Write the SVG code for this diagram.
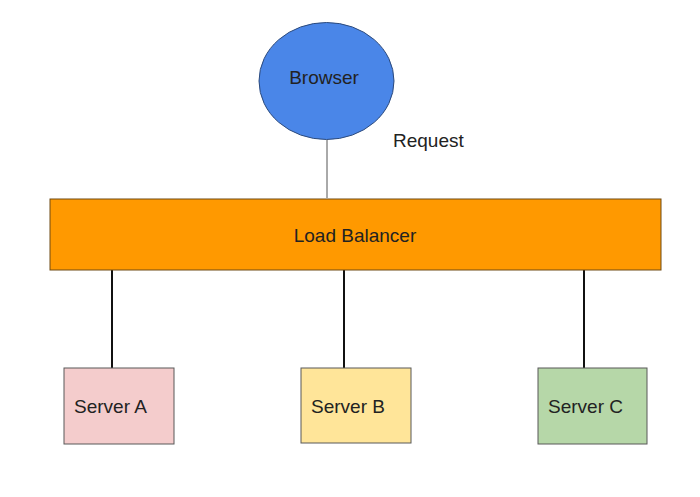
<svg xmlns="http://www.w3.org/2000/svg" width="700" height="497" viewBox="0 0 700 497">
<style>
text{font-family:"Liberation Sans",Arial,sans-serif;font-size:19px;fill:#222}
.srv{stroke:#595959;stroke-width:1}
.conn{stroke:#111;stroke-width:2;fill:none}
</style>
<rect width="700" height="497" fill="#fff"/>
<g id="connectors">
<line x1="327" y1="140" x2="327" y2="198" stroke="#555" stroke-width="1"/>
<line class="conn" x1="112" y1="270" x2="112" y2="368"/>
<line class="conn" x1="344" y1="270" x2="344" y2="368"/>
<line class="conn" x1="584" y1="270" x2="584" y2="368"/>
</g>
<g id="browser">
<ellipse cx="326.5" cy="81" rx="67.5" ry="58.5" fill="#4a86e8" stroke="#2c4a7c" stroke-width="1"/>
<text x="324" y="84" text-anchor="middle">Browser</text>
</g>
<g id="request-label">
<text x="393" y="147">Request</text>
</g>
<g id="load-balancer">
<rect x="50" y="199" width="611" height="71" fill="#ff9900" stroke="#6e4a14" stroke-width="1"/>
<text x="355" y="242" text-anchor="middle">Load Balancer</text>
</g>
<g id="server-a">
<rect class="srv" x="64" y="368" width="110" height="76" fill="#f4cccc"/>
<text x="74" y="413">Server A</text>
</g>
<g id="server-b">
<rect class="srv" x="301" y="368" width="110" height="75" fill="#ffe599"/>
<text x="311" y="413">Server B</text>
</g>
<g id="server-c">
<rect class="srv" x="538" y="368" width="109" height="76" fill="#b6d7a8"/>
<text x="548" y="413">Server C</text>
</g>
</svg>
